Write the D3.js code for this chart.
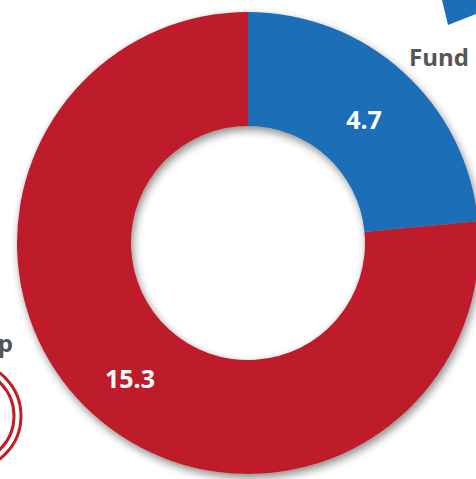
<!DOCTYPE html>
<html><head><meta charset="utf-8">
<script src="https://cdn.jsdelivr.net/npm/d3@7"></script>
<style>body{margin:0;background:#fff}svg{display:block}</style>
</head><body>
<script>
const categories = ["Fund", "Group"];
const values = [4.7, 15.3];
const colors = ["#1E6EB7", "#BE1F29"];

const W = 476, H = 479;
const svg = d3.select("body").append("svg").attr("width", W).attr("height", H);
const defs = svg.append("defs");
const f = defs.append("filter").attr("id","sh").attr("x","-20%").attr("y","-20%").attr("width","140%").attr("height","140%");
f.append("feDropShadow").attr("dx",2).attr("dy",4).attr("stdDeviation",4).attr("flood-color","#000").attr("flood-opacity",0.45);

const cx = 248, cy = 243, rO = 231, rI = 117;
const pie = d3.pie().sort(null).value(d => d);
const arcs = pie(values);
const arc = d3.arc().innerRadius(rI).outerRadius(rO);
const g = svg.append("g").attr("transform", `translate(${cx},${cy})`);
g.append("g").attr("filter","url(#sh)").selectAll("path").data(arcs).join("path")
  .attr("d", arc).attr("fill", (d,i) => colors[i]);

const labelPos = [[116,-124],[-118,135]];
g.selectAll("text.v").data(arcs).join("text").attr("class","v")
  .attr("x", (d,i) => labelPos[i][0]).attr("y", (d,i) => labelPos[i][1])
  .attr("text-anchor","middle").attr("dominant-baseline","central")
  .attr("font-family","'Open Sans', sans-serif").attr("font-weight","bold")
  .attr("font-size", 25).attr("fill","#fff")
  .text(d => d.value.toFixed(1));

// partial legend elements (cropped)
svg.append("path").attr("d","M442,0 L476,0 L476,14 L448,25 Z").attr("fill", colors[0]);
svg.append("text").attr("x",409).attr("y",66).attr("font-family","'Open Sans', sans-serif")
  .attr("font-weight","bold").attr("font-size",24).attr("fill","#555").text(categories[0]);
svg.append("text").attr("x",13).attr("y",352).attr("text-anchor","end").attr("font-family","'Open Sans', sans-serif")
  .attr("font-weight","bold").attr("font-size",24).attr("fill","#555").text(categories[1]);
[54,47].forEach(r => svg.append("circle").attr("cx",-33).attr("cy",416).attr("r",r)
  .attr("fill","none").attr("stroke", colors[1]).attr("stroke-width",3));
</script>
</body></html>
